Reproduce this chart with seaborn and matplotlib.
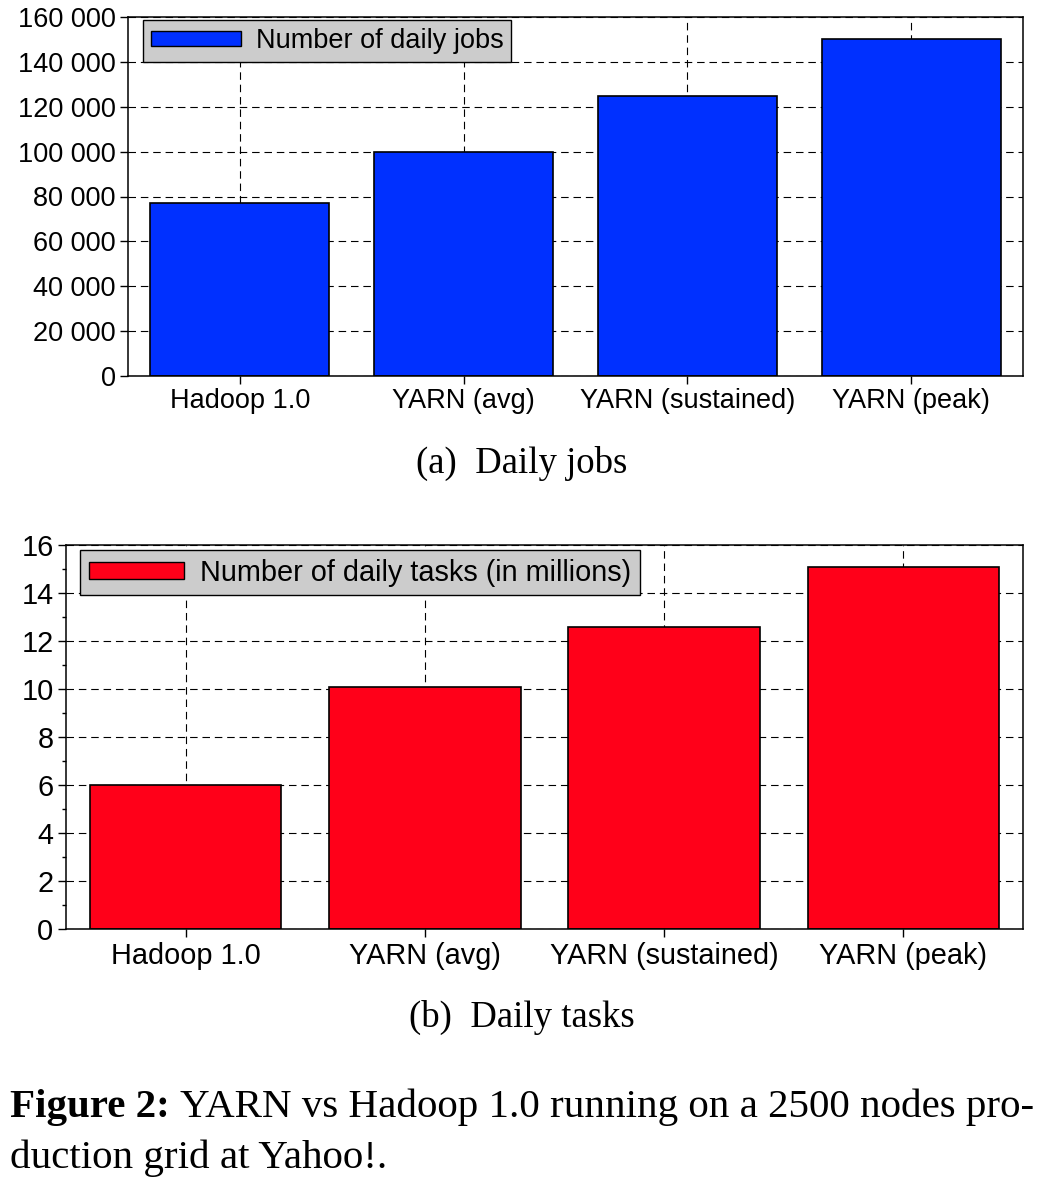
import matplotlib
matplotlib.use("Agg")
import matplotlib.pyplot as plt
import seaborn as sns
import pandas as pd
from matplotlib.patches import Patch
from matplotlib.ticker import FuncFormatter, MultipleLocator

# data
systems = ["Hadoop 1.0", "YARN (avg)", "YARN (sustained)", "YARN (peak)"]
daily_jobs = [77000, 100000, 125000, 150000]
daily_tasks_m = [6.0, 10.1, 12.6, 15.1]

sns.set_style("ticks")
plt.rcParams["font.family"] = ["Liberation Sans", "DejaVu Sans"]
plt.rcParams["lines.scale_dashes"] = False
plt.rcParams["text.color"] = "black"
plt.rcParams["xtick.color"] = "black"
plt.rcParams["ytick.color"] = "black"

blue = "#0030FF"
red = "#FF0019"

fig = plt.figure(figsize=(10.54, 11.88), dpi=100)
ax1 = fig.add_axes([128/1054, 1-376/1188, 895/1054, 359/1188])
ax2 = fig.add_axes([66/1054, 1-929/1188, 957/1054, 384/1188])


def style_axes(ax, color, label, ymax, major, minor, fmt, leg_xy, fs):
    ax.set_axisbelow(True)
    ax.grid(True, which="major", color="black", linewidth=0.8,
            linestyle=(0, (5.4, 3.5)))
    ax.set_xlim(-0.5, 3.5)
    ax.set_ylim(0, ymax)
    ax.yaxis.set_major_locator(MultipleLocator(major))
    if minor:
        ax.yaxis.set_minor_locator(MultipleLocator(minor))
    ax.yaxis.set_major_formatter(FuncFormatter(fmt))
    ax.set_xlabel("")
    ax.set_ylabel("")
    for s in ax.spines.values():
        s.set_visible(True)
        s.set_linewidth(1.1)
        s.set_color("black")
    ax.tick_params(axis="both", which="major", direction="out", length=6,
                   width=1.0, labelsize=fs, pad=3, colors="black")
    ax.tick_params(axis="y", which="minor", direction="out", length=3,
                   width=1.0)
    ax.tick_params(axis="x", which="minor", bottom=False)
    leg = ax.legend(handles=[Patch(facecolor=color, edgecolor="black",
                                   linewidth=1.0, label=label)],
                    loc="upper left", bbox_to_anchor=leg_xy, borderaxespad=0,
                    fontsize=fs, fancybox=False, framealpha=1,
                    facecolor="#cccccc", edgecolor="black",
                    handlelength=3.3, handleheight=0.5, handletextpad=0.55,
                    borderpad=0.3)
    leg.get_frame().set_linewidth(1.0)
    for t in leg.get_texts():
        t.set_color("black")


df1 = pd.DataFrame({"system": systems, "value": daily_jobs})
sns.barplot(data=df1, x="system", y="value", color=blue, saturation=1,
            edgecolor="black", linewidth=1.2, width=0.8, ax=ax1)
style_axes(ax1, blue, "Number of daily jobs", 160000, 20000, None,
           lambda v, p: f"{int(v):,}".replace(",", " "), (0.017, 0.992), 19.5)

df2 = pd.DataFrame({"system": systems, "value": daily_tasks_m})
sns.barplot(data=df2, x="system", y="value", color=red, saturation=1,
            edgecolor="black", linewidth=1.2, width=0.8, ax=ax2)
style_axes(ax2, red, "Number of daily tasks (in millions)", 16, 2, 1,
           lambda v, p: f"{int(v)}", (0.0146, 0.987), 20.8)

serif = ["Liberation Serif", "DejaVu Serif"]
fig.text(0.4953, 1-473/1188, "(a)  Daily jobs", ha="center", va="baseline",
         fontsize=26.5, family=serif)
fig.text(0.4953, 1-1027/1188, "(b)  Daily tasks", ha="center", va="baseline",
         fontsize=26.5, family=serif)

# figure caption: bold label followed by regular text
cap_fs = 29.5
t_bold = fig.text(10/1054, 1-1117/1188, "Figure 2:", ha="left", va="baseline",
                  fontsize=cap_fs, family=serif, fontweight="bold")
fig.canvas.draw()
bb = t_bold.get_window_extent(renderer=fig.canvas.get_renderer())
x_after = (bb.x1 + 10) / fig.bbox.width
fig.text(x_after, 1-1117/1188, "YARN vs Hadoop 1.0 running on a 2500 nodes pro-",
         ha="left", va="baseline", fontsize=cap_fs, family=serif)
fig.text(10/1054, 1-1168/1188, "duction grid at Yahoo!.", ha="left",
         va="baseline", fontsize=cap_fs, family=serif)

fig.savefig("out.png", dpi=100)
